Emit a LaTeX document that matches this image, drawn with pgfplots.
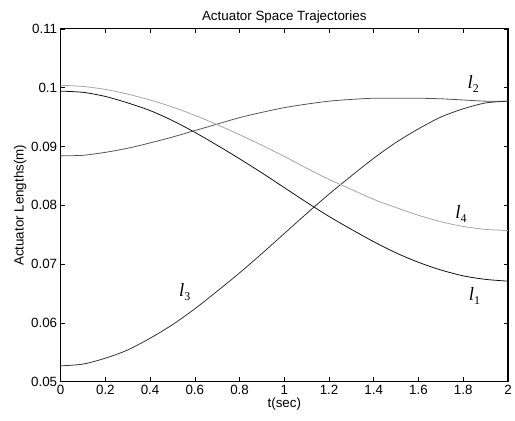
\documentclass[border=0pt]{standalone}
\usepackage{fontspec}
\setmainfont{Liberation Sans}
\newfontfamily\timesf{Liberation Serif}
\usepackage{pgfplots}
\pgfplotsset{compat=1.18}
\usetikzlibrary{calc}
\definecolor{cOne}{HTML}{111111}
\definecolor{cTwo}{HTML}{555555}
\definecolor{cThree}{HTML}{333333}
\definecolor{cFour}{HTML}{A6A6A6}
\newcommand{\lab}[1]{{\timesf\fontsize{19}{19}\selectfont\itshape l}\raisebox{-4bp}{\timesf\fontsize{12}{12}\selectfont #1}}
\begin{document}
\begin{tikzpicture}
\begin{axis}[
  scale only axis,
  width=450bp, height=355bp,
  xmin=0, xmax=2, ymin=0.05, ymax=0.11,
  xtick={0,0.2,...,2.01}, ytick={0.05,0.06,0.07,0.08,0.09,0.1,0.11},
  scaled y ticks=false, scaled x ticks=false,
  /pgf/number format/assume math mode=true,
  yticklabel style={/pgf/number format/fixed,/pgf/number format/precision=2},
  xticklabel style={/pgf/number format/fixed,/pgf/number format/precision=1},
  tick align=inside,
  major tick length=4.5bp,
  tick style={black, line width=0.6pt},
  axis line style={black, line width=1.1pt},
  every tick label/.append style={font=\fontsize{13.5}{15}\selectfont},
  title={Actuator Space Trajectories},
  title style={font=\fontsize{13.5}{15}\selectfont, yshift=-4bp},
  xlabel={t(sec)}, ylabel={Actuator Lengths(m)},
  label style={font=\fontsize{13.5}{15}\selectfont},
  xlabel style={yshift=4bp},
  ylabel style={yshift=-2bp},
  clip=true,
]
\addplot[cOne, line width=0.8pt, smooth] coordinates {
(0,0.0994)(0.1,0.0992)(0.2,0.0985)(0.3,0.0974)(0.4,0.0961)(0.5,0.0944)(0.6,0.0924)(0.7,0.0902)(0.8,0.0879)(0.9,0.0855)(1.0,0.0830)(1.1,0.0805)(1.2,0.0781)(1.3,0.0759)(1.4,0.0738)(1.5,0.0719)(1.6,0.0703)(1.7,0.0690)(1.8,0.0680)(1.9,0.0674)(2.0,0.0671)};
\addplot[cTwo, line width=0.8pt, smooth] coordinates {
(0,0.0884)(0.1,0.0885)(0.2,0.0890)(0.3,0.0897)(0.4,0.0906)(0.5,0.0916)(0.6,0.0927)(0.7,0.0938)(0.8,0.0949)(0.9,0.0958)(1.0,0.0966)(1.1,0.0972)(1.2,0.0977)(1.3,0.0980)(1.4,0.0982)(1.5,0.0982)(1.6,0.0982)(1.7,0.0981)(1.8,0.0979)(1.9,0.0977)(2.0,0.0977)};
\addplot[cThree, line width=0.8pt, smooth] coordinates {
(0,0.0527)(0.1,0.0530)(0.2,0.0540)(0.3,0.0554)(0.4,0.0574)(0.5,0.0597)(0.6,0.0624)(0.7,0.0654)(0.8,0.0685)(0.9,0.0718)(1.0,0.0752)(1.1,0.0786)(1.2,0.0819)(1.3,0.0850)(1.4,0.0880)(1.5,0.0907)(1.6,0.0930)(1.7,0.0950)(1.8,0.0964)(1.9,0.0974)(2.0,0.0977)};
\addplot[cFour, line width=0.8pt, smooth] coordinates {
(0,0.1004)(0.1,0.1002)(0.2,0.0997)(0.3,0.0989)(0.4,0.0979)(0.5,0.0967)(0.6,0.0953)(0.7,0.0937)(0.8,0.0920)(0.9,0.0902)(1.0,0.0883)(1.1,0.0863)(1.2,0.0844)(1.3,0.0827)(1.4,0.0810)(1.5,0.0796)(1.6,0.0783)(1.7,0.0772)(1.8,0.0764)(1.9,0.0759)(2.0,0.0757)};
\node at (axis cs:1.845,0.1007) {\lab{2}};
\node at (axis cs:1.79,0.0786) {\lab{4}};
\node at (axis cs:1.85,0.0645) {\lab{1}};
\node at (axis cs:0.555,0.0653) {\lab{3}};
\end{axis}
\path ($(current axis.south west)+(-61bp,-39bp)$) rectangle ($(current axis.north east)+(4bp,29bp)$);
\end{tikzpicture}
\end{document}
